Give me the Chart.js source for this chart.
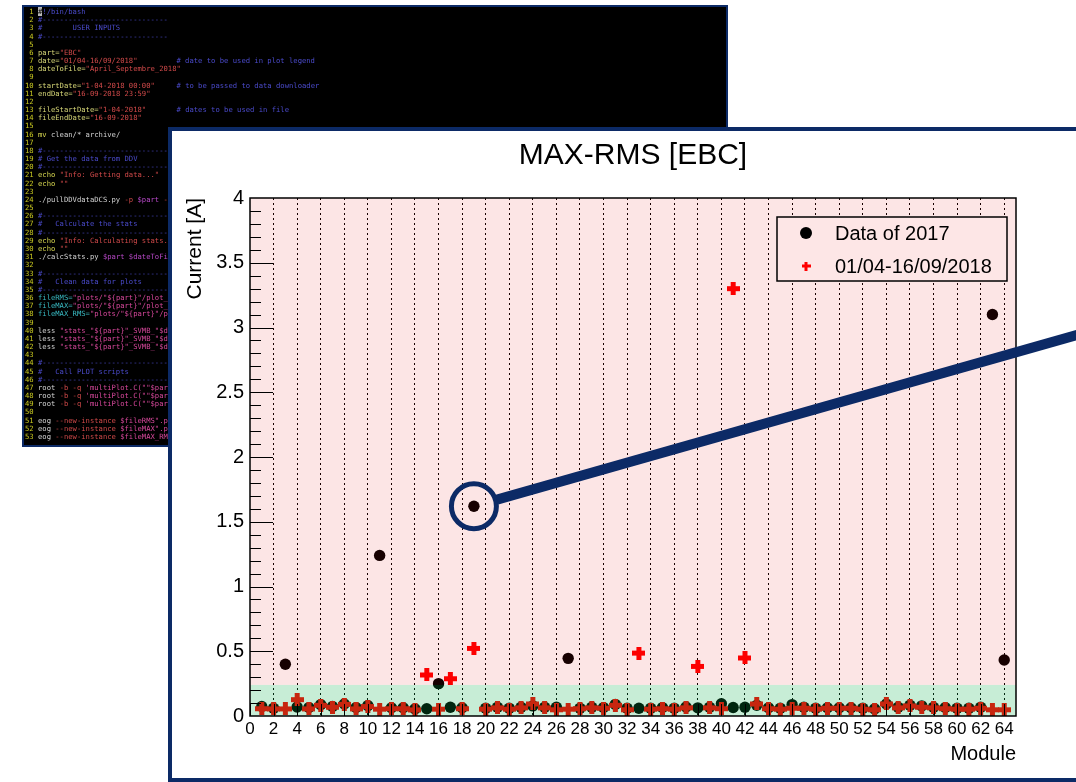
<!DOCTYPE html>
<html>
<head>
<meta charset="utf-8">
<title>MAX-RMS [EBC]</title>
<script src="https://cdn.jsdelivr.net/npm/chart.js@4.4.0/dist/chart.umd.min.js"></script>
<style>
  html, body { margin: 0; padding: 0; background: #fff; width: 1076px; height: 782px; overflow: hidden; position: relative; }
  #term { position: absolute; left: 22px; top: 5px; width: 702px; height: 438px; background: #000; border: 2px solid #0c2a66; overflow: hidden; }
  #term pre { margin: 0; padding: 1px 0 0 1px; font-family: "DejaVu Sans Mono", monospace; font-size: 7.2px; line-height: 8.17px; color: #d4d4d4; white-space: pre; filter: blur(0.3px); }
  #term .n { color: #c8c820; }
  #term .c { color: #4b4bcc; }
  #term .s { color: #d24a4a; }
  #term .v { color: #d8d878; }
  #term .k { color: #d8d850; }
  #term .o { color: #d24a4a; }
  #term .m { color: #b848c8; }
  #term .y { color: #38b8c0; }
  #term .p { color: #d8489c; }
  #term .cur { background: #b8b8b8; color: #000; }
  #panel { position: absolute; left: 168px; top: 127px; width: 1000px; height: 647px; background: #fff; border: 4px solid #0c2a66; }
  #chart { position: absolute; left: 172px; top: 131px; }
</style>
</head>
<body>
<div id="term"><pre><span class="n"> 1 </span><span class="cur">#</span><span class="c">!/bin/bash</span>
<span class="n"> 2 </span><span class="c">#-----------------------------</span>
<span class="n"> 3 </span><span class="c">#       USER INPUTS</span>
<span class="n"> 4 </span><span class="c">#-----------------------------</span>
<span class="n"> 5 </span>
<span class="n"> 6 </span><span class="v">part=</span><span class="s">"EBC"</span>
<span class="n"> 7 </span><span class="v">date=</span><span class="s">"01/04-16/09/2018"</span>         <span class="c"># date to be used in plot legend</span>
<span class="n"> 8 </span><span class="v">dateToFile=</span><span class="s">"April_Septembre_2018"</span>
<span class="n"> 9 </span>
<span class="n">10 </span><span class="v">startDate=</span><span class="s">"1-04-2018 00:00"</span>     <span class="c"># to be passed to data downloader</span>
<span class="n">11 </span><span class="v">endDate=</span><span class="s">"16-09-2018 23:59"</span>
<span class="n">12 </span>
<span class="n">13 </span><span class="v">fileStartDate=</span><span class="s">"1-04-2018"</span>       <span class="c"># dates to be used in file</span>
<span class="n">14 </span><span class="v">fileEndDate=</span><span class="s">"16-09-2018"</span>
<span class="n">15 </span>
<span class="n">16 </span><span class="k">mv</span> clean/* archive/
<span class="n">17 </span>
<span class="n">18 </span><span class="c">#-----------------------------</span>
<span class="n">19 </span><span class="c"># Get the data from DDV</span>
<span class="n">20 </span><span class="c">#-----------------------------</span>
<span class="n">21 </span><span class="k">echo</span> <span class="s">"Info: Getting data..."</span>
<span class="n">22 </span><span class="k">echo</span> <span class="s">""</span>
<span class="n">23 </span>
<span class="n">24 </span>./pullDDVdataDCS.py <span class="o">-p</span> <span class="m">$part</span> <span class="o">-s</span> <span class="m">"$startDate"</span> <span class="o">-e</span> <span class="m">"$endDate"</span>
<span class="n">25 </span>
<span class="n">26 </span><span class="c">#-----------------------------</span>
<span class="n">27 </span><span class="c">#   Calculate the stats</span>
<span class="n">28 </span><span class="c">#-----------------------------</span>
<span class="n">29 </span><span class="k">echo</span> <span class="s">"Info: Calculating stats..."</span>
<span class="n">30 </span><span class="k">echo</span> <span class="s">""</span>
<span class="n">31 </span>./calcStats.py <span class="m">$part $dateToFile</span>
<span class="n">32 </span>
<span class="n">33 </span><span class="c">#-----------------------------</span>
<span class="n">34 </span><span class="c">#   Clean data for plots</span>
<span class="n">35 </span><span class="c">#-----------------------------</span>
<span class="n">36 </span><span class="y">fileRMS=</span><span class="p">"plots/"${part}"/plot_"${part}"_RMS_"$dateToFile</span>
<span class="n">37 </span><span class="y">fileMAX=</span><span class="p">"plots/"${part}"/plot_"${part}"_MAX_"$dateToFile</span>
<span class="n">38 </span><span class="y">fileMAX_RMS=</span><span class="p">"plots/"${part}"/plot_"${part}"_MAX-RMS_"$dateToFile</span>
<span class="n">39 </span>
<span class="n">40 </span>less <span class="p">"stats_"${part}"_SVMB_"$dateToFile"_RMS.txt"</span>
<span class="n">41 </span>less <span class="p">"stats_"${part}"_SVMB_"$dateToFile"_MAX.txt"</span>
<span class="n">42 </span>less <span class="p">"stats_"${part}"_SVMB_"$dateToFile"_MAX-RMS.txt"</span>
<span class="n">43 </span>
<span class="n">44 </span><span class="c">#-----------------------------</span>
<span class="n">45 </span><span class="c">#   Call PLOT scripts</span>
<span class="n">46 </span><span class="c">#-----------------------------</span>
<span class="n">47 </span>root <span class="o">-b</span> <span class="o">-q</span> <span class="p">'multiPlot.C(""$part"",""RMS"",""$date"")'</span>
<span class="n">48 </span>root <span class="o">-b</span> <span class="o">-q</span> <span class="p">'multiPlot.C(""$part"",""MAX"",""$date"")'</span>
<span class="n">49 </span>root <span class="o">-b</span> <span class="o">-q</span> <span class="p">'multiPlot.C(""$part"",""MAX-RMS"",""$date"")'</span>
<span class="n">50 </span>
<span class="n">51 </span>eog <span class="o">--new-instance</span> <span class="p">$fileRMS".png"</span> &amp;
<span class="n">52 </span>eog <span class="o">--new-instance</span> <span class="p">$fileMAX".png"</span> &amp;
<span class="n">53 </span>eog <span class="o">--new-instance</span> <span class="p">$fileMAX_RMS".png"</span> &amp;</pre></div>
<div id="panel"></div>
<canvas id="chart" width="904" height="647"></canvas>
<script>
// ---- data -------------------------------------------------------------
const modules = [1, 2, 3, 4, 5, 6, 7, 8, 9, 10, 11, 12, 13, 14, 15, 16,
  17, 18, 19, 20, 21, 22, 23, 24, 25, 26, 27, 28, 29, 30, 31, 32,
  33, 34, 35, 36, 37, 38, 39, 40, 41, 42, 43, 44, 45, 46, 47, 48,
  49, 50, 51, 52, 53, 54, 55, 56, 57, 58, 59, 60, 61, 62, 63, 64];

// MAX-RMS current per module, 2017 reference
const maxRms2017 = [0.074, 0.060, 0.400, 0.070, 0.065, 0.088, 0.073, 0.093,
  0.065, 0.080, 1.240, 0.063, 0.063, 0.055, 0.056, 0.250,
  0.068, 0.063, 1.620, 0.060, 0.068, 0.060, 0.068, 0.078,
  0.068, 0.068, 0.445, 0.060, 0.068, 0.065, 0.090, 0.060,
  0.060, 0.060, 0.065, 0.060, 0.070, 0.063, 0.068, 0.095,
  0.066, 0.068, 0.083, 0.063, 0.060, 0.088, 0.068, 0.060,
  0.063, 0.063, 0.063, 0.060, 0.055, 0.093, 0.068, 0.083,
  0.078, 0.068, 0.065, 0.060, 0.060, 0.068, 3.100, 0.432];

// MAX-RMS current per module, 01/04 - 16/09/2018
const maxRms2018 = [0.056, 0.055, 0.055, 0.126, 0.055, 0.083, 0.068, 0.090,
  0.055, 0.073, 0.053, 0.056, 0.056, 0.047, 0.317, 0.053,
  0.288, 0.056, 0.522, 0.053, 0.063, 0.053, 0.063, 0.093,
  0.063, 0.048, 0.053, 0.056, 0.063, 0.060, 0.083, 0.048,
  0.486, 0.053, 0.056, 0.053, 0.063, 0.383, 0.063, 0.056,
  3.300, 0.448, 0.093, 0.056, 0.053, 0.060, 0.060, 0.053,
  0.060, 0.060, 0.060, 0.053, 0.048, 0.093, 0.063, 0.078,
  0.068, 0.063, 0.056, 0.053, 0.053, 0.060, 0.048, 0.048];

const seriesLabels = ['Data of 2017', '01/04-16/09/2018'];
const chartTitle = 'MAX-RMS [EBC]';
const xAxisTitle = 'Module';
const yAxisTitle = 'Current [A]';
const bandTop = 0.24;          // upper edge of the "normal" band
const highlightModule = 19;    // module circled in the 2017 series

// ---- styles -----------------------------------------------------------
const FONT = '"Liberation Sans", Arial, Helvetica, sans-serif';
const NAVY = '#0c2a66';

function plusImage(size, arm, color) {
  const c = document.createElement('canvas');
  c.width = size; c.height = size;
  const g = c.getContext('2d');
  g.fillStyle = color;
  const o = (size - arm) / 2;
  g.fillRect(o, 0, arm, size);
  g.fillRect(0, o, size, arm);
  return c;
}
const plusMarker = plusImage(13, 5, '#ff0000');
const plusLegend = plusImage(9, 3, '#ff0000');

// overlays, frame, inward ticks, legend box and the highlight callout
const decorations = {
  id: 'decorations',
  afterDatasetsDraw(chart) {
    const { ctx, chartArea: a, scales: { y } } = chart;
    const yb = y.getPixelForValue(bandTop);
    ctx.save();
    ctx.fillStyle = 'rgba(230,0,0,0.1)';
    ctx.fillRect(a.left, a.top, a.right - a.left, yb - a.top);
    ctx.fillStyle = 'rgba(0,175,70,0.22)';
    ctx.fillRect(a.left, yb, a.right - a.left, a.bottom - yb);
    ctx.restore();
  },
  afterDraw(chart) {
    const { ctx, chartArea: a, scales: { x, y } } = chart;
    ctx.save();
    // inward tick marks
    ctx.strokeStyle = '#000';
    ctx.lineWidth = 1;
    ctx.beginPath();
    for (let i = 1; i < 40; i++) {
      const py = Math.round(y.getPixelForValue(i / 10)) + 0.5;
      const len = i % 5 === 0 ? 23 : 11;
      ctx.moveTo(a.left, py); ctx.lineTo(a.left + len, py);
    }
    x.ticks.forEach(t => {
      const px = Math.round(x.getPixelForValue(t.value)) + 0.5;
      ctx.moveTo(px, a.bottom); ctx.lineTo(px, a.bottom - 12);
    });
    ctx.stroke();
    // frame
    ctx.lineWidth = 1.5;
    ctx.strokeRect(a.left, a.top, a.right - a.left, a.bottom - a.top);

    // legend
    const bw = 230, bh = 64;
    const bx = a.right - 9 - bw, by = a.top + 19;
    ctx.fillStyle = 'rgb(253,230,230)';
    ctx.fillRect(bx, by, bw, bh);
    ctx.lineWidth = 1.5;
    ctx.strokeStyle = '#000';
    ctx.strokeRect(bx, by, bw, bh);
    const rows = [by + 16, by + 49];
    ctx.fillStyle = '#000';
    ctx.beginPath();
    ctx.arc(bx + 29, rows[0], 6, 0, Math.PI * 2);
    ctx.fill();
    ctx.drawImage(plusLegend, bx + 29 - plusLegend.width / 2, rows[1] - plusLegend.height / 2);
    ctx.font = '20px ' + FONT;
    ctx.textBaseline = 'middle';
    ctx.textAlign = 'left';
    ctx.fillText(seriesLabels[0], bx + 58, rows[0] + 1);
    ctx.fillText(seriesLabels[1], bx + 58, rows[1] + 1);

    // callout on the highlighted module
    const cx = x.getPixelForValue(highlightModule);
    const cy = y.getPixelForValue(maxRms2017[modules.indexOf(highlightModule)]);
    const r = 22.5;
    ctx.strokeStyle = NAVY;
    ctx.lineWidth = 5;
    ctx.beginPath();
    ctx.arc(cx, cy, r, 0, Math.PI * 2);
    ctx.stroke();
    const ang = Math.atan2(-0.284, 1);
    const x0 = cx + (r + 1.5) * Math.cos(ang), y0 = cy + (r + 1.5) * Math.sin(ang);
    const x1 = chart.width + 10, y1 = cy + (x1 - cx) * Math.tan(ang);
    ctx.lineWidth = 10;
    ctx.beginPath();
    ctx.moveTo(x0, y0); ctx.lineTo(x1, y1);
    ctx.stroke();
    ctx.restore();
  }
};

new Chart(document.getElementById('chart'), {
  type: 'scatter',
  data: {
    datasets: [
      {
        label: seriesLabels[1],
        data: modules.map((m, i) => ({ x: m, y: maxRms2018[i] })),
        pointStyle: plusMarker,
        pointRadius: 6.5,
        order: 0
      },
      {
        label: seriesLabels[0],
        data: modules.map((m, i) => ({ x: m, y: maxRms2017[i] })),
        pointStyle: 'circle',
        pointRadius: 5.7,
        backgroundColor: '#000',
        borderWidth: 0,
        order: 1
      }
    ]
  },
  options: {
    responsive: false,
    animation: false,
    devicePixelRatio: 1,
    layout: { padding: { left: 0, top: 0, right: 60, bottom: 0 } },
    plugins: {
      legend: { display: false },
      tooltip: { enabled: false },
      title: {
        display: true,
        fullSize: false,
        text: chartTitle,
        color: '#000',
        font: { family: FONT, size: 30, weight: 'normal' },
        padding: { top: 7, bottom: 24 }
      }
    },
    scales: {
      x: {
        type: 'linear',
        min: 0,
        max: 65,
        afterFit(s) { s.height = 62; },
        ticks: {
          stepSize: 2,
          includeBounds: false,
          autoSkip: false,
          maxRotation: 0,
          padding: 3,
          color: '#000',
          font: { family: FONT, size: 17 }
        },
        grid: {
          color: c => (c.tick && c.tick.value === 0) ? 'rgba(0,0,0,0)' : '#000',
          lineWidth: 1,
          drawTicks: false
        },
        border: { display: false, dash: [2, 3] },
        title: {
          display: true,
          text: xAxisTitle,
          align: 'end',
          color: '#000',
          font: { family: FONT, size: 20 },
          padding: { top: 0, bottom: 12 }
        }
      },
      y: {
        min: 0,
        max: 4,
        afterFit(s) { s.width = 78; },
        ticks: {
          stepSize: 0.5,
          padding: 6,
          color: '#000',
          font: { family: FONT, size: 20 },
          callback: v => String(Number(v))
        },
        grid: { display: false, drawTicks: false },
        border: { display: false },
        title: {
          display: true,
          text: yAxisTitle,
          align: 'end',
          color: '#000',
          font: { family: FONT, size: 21 },
          padding: { top: 11, bottom: 0 }
        }
      }
    }
  },
  plugins: [decorations]
});
</script>
</body>
</html>
